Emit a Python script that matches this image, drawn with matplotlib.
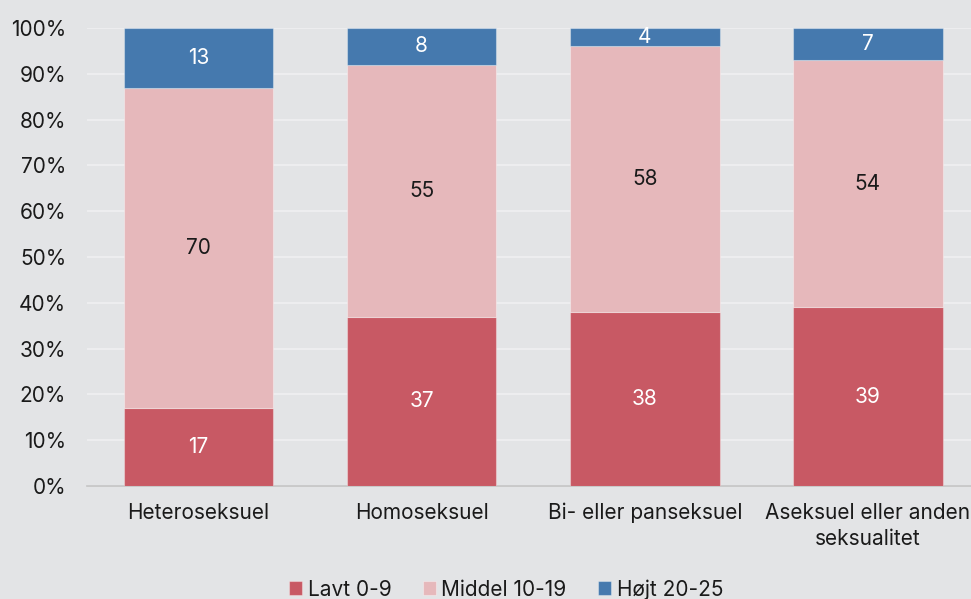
import matplotlib.pyplot as plt
import numpy as np

plt.rcParams["font.family"] = ["Inter", "DejaVu Sans"]

categories = ["Heteroseksuel", "Homoseksuel", "Bi- eller panseksuel", "Aseksuel eller anden\nseksualitet"]
series_names = ["Lavt 0-9", "Middel 10-19", "Højt 20-25"]
lavt = [17, 37, 38, 39]
middel = [70, 55, 58, 54]
hoejt = [13, 8, 4, 7]
colors = ["#c85964", "#e6b8bb", "#4579ae"]
label_colors = ["white", "#1a1a1a", "white"]
bg = "#e3e4e6"

fig = plt.figure(figsize=(9.71, 5.99), dpi=100, facecolor=bg)
# axes extends past the right edge as in the reference
ax = fig.add_axes([87 / 971, 1 - 486 / 599, (979.5 - 87) / 971, (486 - 28) / 599])
ax.set_facecolor(bg)

x = np.arange(len(categories))
bottom = np.zeros(len(categories))
for name, vals, col, tcol in zip(series_names, [lavt, middel, hoejt], colors, label_colors):
    vals = np.array(vals, dtype=float)
    ax.bar(x, vals, 0.67, bottom=bottom, color=col, label=name,
           edgecolor=(1, 1, 1, 0.35), linewidth=0.8, zorder=3)
    for xi, b, v in zip(x, bottom, vals):
        ax.text(xi, b + v / 2, f"{v:.0f}", ha="center", va="center",
                color=tcol, fontsize=15, zorder=4)
    bottom += vals

ax.set_xlim(-0.5, len(categories) - 0.5)
ax.set_ylim(0, 100)
ax.set_yticks(np.arange(0, 101, 10))
ax.set_yticklabels([f"{t}%" for t in range(0, 101, 10)])
ax.set_xticks(x)
ax.set_xticklabels(categories, linespacing=1.4)
ax.tick_params(axis="both", length=0, labelsize=15, colors="#1a1a1a")
ax.tick_params(axis="y", pad=15)
ax.tick_params(axis="x", pad=12)
ax.yaxis.grid(True, color="#f0f0f2", linewidth=1.2, zorder=0)
for s in ["top", "right", "left"]:
    ax.spines[s].set_visible(False)
ax.spines["bottom"].set_color("#c4c4c4")
ax.spines["bottom"].set_linewidth(1.2)

leg = fig.legend(loc="center", bbox_to_anchor=(0.521, 0.016), ncol=3, frameon=False,
                 fontsize=15, handlelength=0.65, handleheight=0.65, handletextpad=0.25,
                 columnspacing=1.5)
for t in leg.get_texts():
    t.set_color("#1a1a1a")

fig.savefig("out.png", dpi=100, facecolor=bg)
